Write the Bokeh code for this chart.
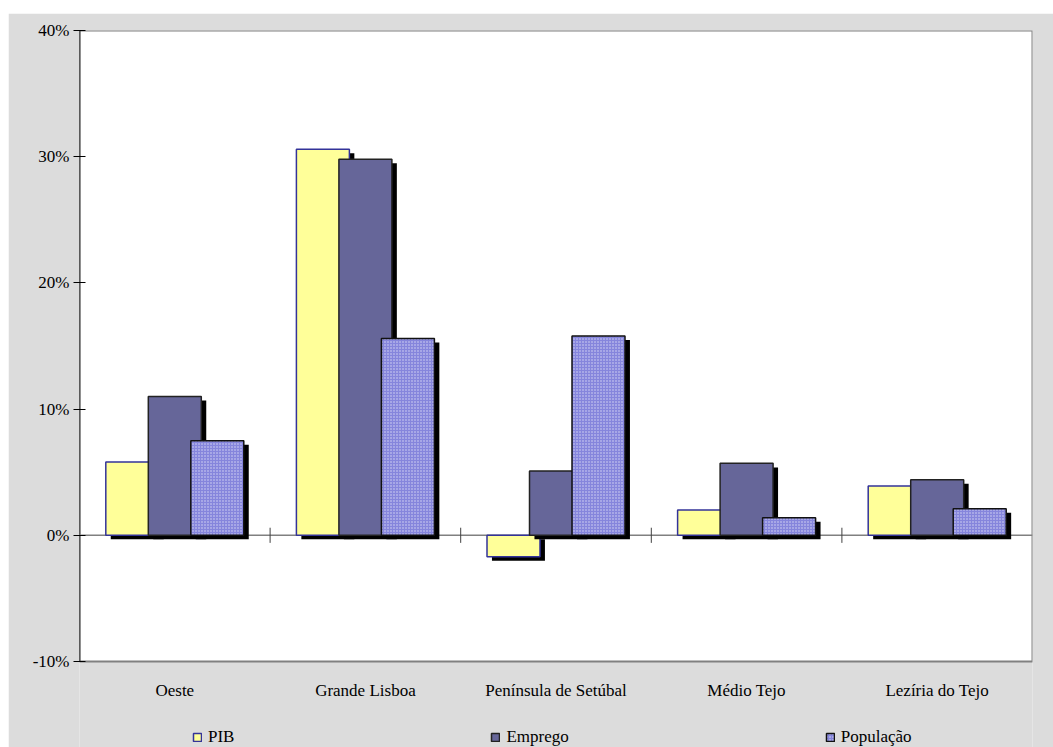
from bokeh.plotting import figure
from bokeh.models import (Range1d, FixedTicker, NumeralTickFormatter, Span, Legend,
                          LegendItem)
from bokeh.core.properties import value
from bokeh.embed import file_html
from bokeh.resources import INLINE

categories = ["Oeste", "Grande Lisboa", "Península de Setúbal", "Médio Tejo", "Lezíria do Tejo"]
pib = [5.8, 30.6, -1.7, 2.0, 3.9]
emprego = [11.0, 29.8, 5.1, 5.7, 4.4]
populacao = [7.5, 15.6, 15.8, 1.4, 2.1]
series_names = ["PIB", "Emprego", "População"]
y_ticks = [-10, 0, 10, 20, 30, 40]

FONT = "Liberation Serif"
BG = "#dcdcdc"
n = len(categories)
centers = [i + 0.5 for i in range(n)]
y_min, y_max = min(y_ticks), max(y_ticks)
px_per_unit = 631 / (y_max - y_min)
y_bottom = y_min - 86 / px_per_unit

p = figure(width=1045, height=734, output_backend="svg", toolbar_location=None,
           x_range=Range1d(0, n), y_range=Range1d(y_bottom, y_max))
p.margin = (13, 0, 0, 8)
p.min_border_left = 71
p.min_border_right = 21
p.min_border_top = 17
p.min_border_bottom = 0
p.background_fill_color = BG
p.border_fill_color = BG
p.outline_line_color = None
p.xgrid.visible = False
p.ygrid.visible = False
p.xaxis.visible = False

# plot area (white box with grey border)
p.quad(left=[0], right=[n], bottom=[y_min], top=[y_max], fill_color="white",
       line_color="#808080", line_width=2)
# left value-axis line
p.segment(x0=[0], x1=[0], y0=[y_min], y1=[y_max], line_color="black", line_width=1.5)

# y axis (labels and ticks)
p.yaxis.bounds = (y_min, y_max)
p.yaxis.ticker = FixedTicker(ticks=y_ticks)
p.yaxis.formatter = NumeralTickFormatter(format="0")
p.yaxis.major_label_overrides = {t: f"{t}%" for t in y_ticks}
p.yaxis.axis_line_color = None
p.yaxis.major_tick_in = 6
p.yaxis.major_tick_out = 6
p.yaxis.major_tick_line_color = "black"
p.yaxis.minor_tick_line_color = None
p.yaxis.major_label_text_font = FONT
p.yaxis.major_label_text_font_size = "17px"
p.yaxis.major_label_text_color = "black"
p.yaxis.major_label_standoff = 4

# category labels under the plot area
p.text(x=centers, y=[y_min - 29 / px_per_unit] * n, text=categories,
       text_font=value(FONT), text_font_size="17px", text_color="black",
       text_align="center", text_baseline="middle")

# zero line and boundary ticks
p.segment(x0=[0], x1=[n], y0=[0], y1=[0], line_color="#808080", line_width=1.5)
bounds = list(range(1, n))
p.segment(x0=bounds, x1=bounds, y0=[-0.6] * len(bounds), y1=[0.6] * len(bounds),
          line_color="#404040", line_width=1)

step = 0.223
width = 0.278
dx = 0.026
dy = 0.32

styles = [
    dict(fill_color="#ffff99", line_color="#333399"),
    dict(fill_color="#666699", line_color="#222222"),
    dict(fill_color="#8585dc", line_color="#111111",
         hatch_pattern="dot", hatch_color="white",
         hatch_scale=3, hatch_weight=1, hatch_alpha=0.7),
]
values = [pib, emprego, populacao]

items = []
for k, (name, vals, style) in enumerate(zip(series_names, values, styles)):
    off = (k - 1) * step
    xs = [c + off for c in centers]
    tops = [max(v, 0) for v in vals]
    bots = [min(v, 0) for v in vals]
    p.vbar(x=[x + dx for x in xs], width=width, top=[t - dy for t in tops],
           bottom=[b - dy for b in bots], fill_color="black", line_color=None)
    r = p.vbar(x=xs, width=width, top=tops, bottom=bots, line_width=1.5, **style)
    items.append(LegendItem(label=name, renderers=[r]))

legend = Legend(items=items, orientation="horizontal", spacing=256,
                location=(113, 0), glyph_width=10, glyph_height=10,
                label_text_font=FONT, label_text_font_size="17px",
                label_text_color="black", label_height=17,
                label_standoff=6, padding=0, margin=0,
                background_fill_alpha=0, border_line_color=None)
p.add_layout(legend, "center")

open("out.html", "w").write(file_html(p, INLINE))
